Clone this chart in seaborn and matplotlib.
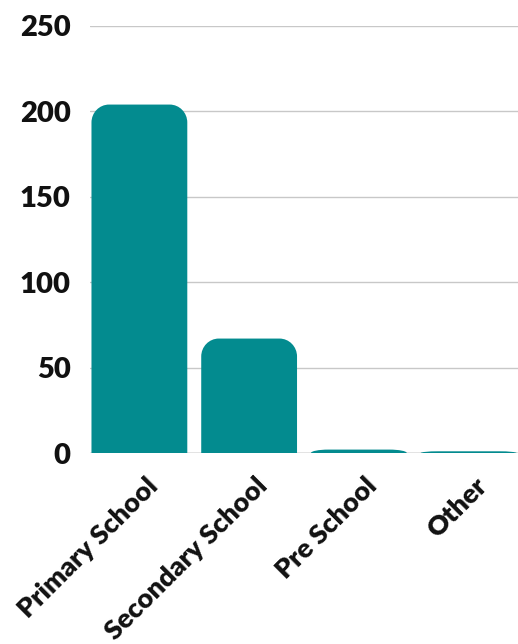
import numpy as np
import pandas as pd
import seaborn as sns
import matplotlib.pyplot as plt
from matplotlib.path import Path
from matplotlib.patches import PathPatch
import matplotlib.transforms as mtransforms

# === Data ===
categories = ["Primary School", "Secondary School", "Pre School", "Other"]
counts = [204, 67, 2, 1]
bar_color = "#038b8f"

df = pd.DataFrame({"level": categories, "count": counts})

sns.set_theme(style="white")
plt.rcParams["font.family"] = ["Lato", "DejaVu Sans"]

fig = plt.figure(figsize=(5.18, 6.44), dpi=100)
ax = fig.add_axes([90 / 518, 1 - 453 / 644, 428 / 518, 427 / 644])

sns.barplot(data=df, x="level", y="count", color=bar_color, width=0.873,
            saturation=1, ax=ax)


def rounded_top(x0, w, h, rx, ry):
    ry = min(ry, h)
    k = 0.5523
    verts = [
        (x0, 0), (x0, h - ry),
        (x0, h - ry + k * ry), (x0 + rx - k * rx, h), (x0 + rx, h),
        (x0 + w - rx, h),
        (x0 + w - rx + k * rx, h), (x0 + w, h - ry + k * ry), (x0 + w, h - ry),
        (x0 + w, 0), (x0, 0),
    ]
    codes = [Path.MOVETO, Path.LINETO,
             Path.CURVE4, Path.CURVE4, Path.CURVE4,
             Path.LINETO,
             Path.CURVE4, Path.CURVE4, Path.CURVE4,
             Path.LINETO, Path.CLOSEPOLY]
    return Path(verts, codes)


# swap square bars for bars with rounded tops
for p in list(ax.patches):
    x0, w, h = p.get_x(), p.get_width(), p.get_height()
    p.remove()
    ax.add_patch(PathPatch(rounded_top(x0, w, h, 0.16, 10.5),
                           facecolor=bar_color, edgecolor="none", zorder=3))

ax.set_xlim(-0.45, 3.45)
ax.set_ylim(0, 250)
ax.set_yticks([0, 50, 100, 150, 200, 250])
ax.yaxis.grid(True, color="#c8c8c8", linewidth=1)
ax.set_axisbelow(True)
for s in ax.spines.values():
    s.set_visible(False)
ax.axhline(0, color="#a0a0a0", linewidth=1, zorder=2)

ax.set_xlabel("")
ax.set_ylabel("")
ax.tick_params(axis="y", length=0, pad=14, labelsize=21)
ax.tick_params(axis="x", length=0, pad=0, labelsize=19.5)
for lbl in ax.get_yticklabels():
    lbl.set_fontweight("heavy")
    lbl.set_color("#111111")
offset = mtransforms.ScaledTranslation(14 / 100, -29 / 100, fig.dpi_scale_trans)
for lbl in ax.get_xticklabels():
    lbl.set_fontweight("heavy")
    lbl.set_color("#111111")
    lbl.set_rotation(45)
    lbl.set_ha("right")
    lbl.set_va("center")
    lbl.set_rotation_mode("anchor")
    lbl.set_transform(lbl.get_transform() + offset)

fig.savefig("out.png", dpi=100)
plt.close(fig)
